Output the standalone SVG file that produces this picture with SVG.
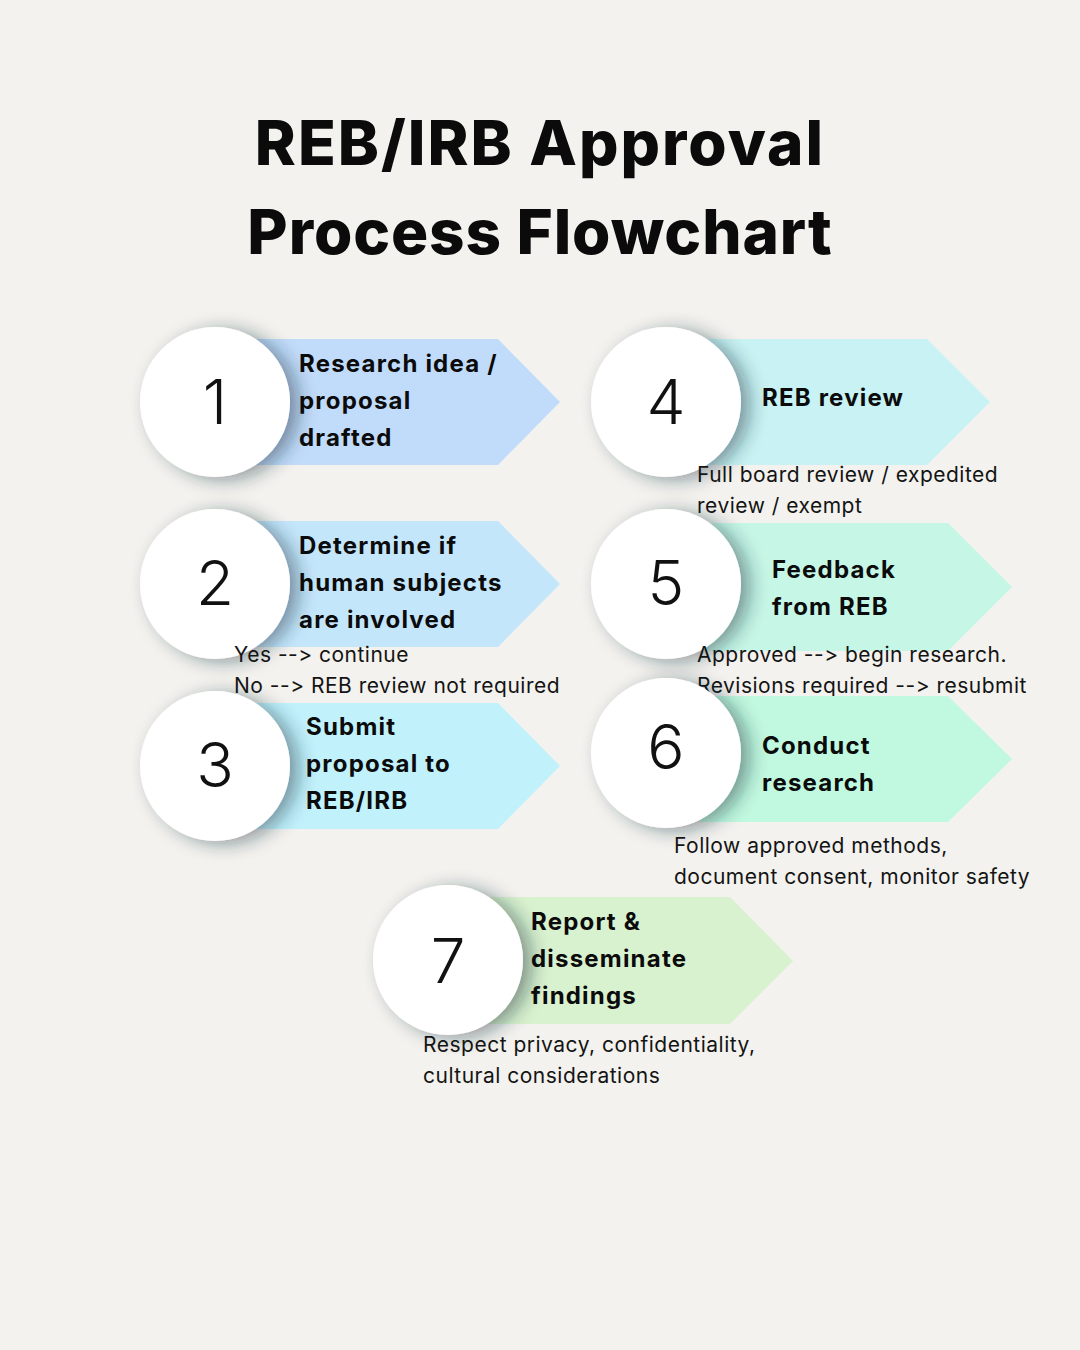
<svg xmlns="http://www.w3.org/2000/svg" width="1080" height="1350" viewBox="0 0 1080 1350">
<defs>
<filter id="sh" x="-30%" y="-30%" width="160%" height="160%">
<feDropShadow dx="9" dy="3" stdDeviation="9" flood-color="#1d2b3a" flood-opacity="0.45"/>
</filter>
<style>
text{font-variant-ligatures:none;font-feature-settings:"calt" 0,"liga" 0}
.title{font-family:Inter,"Liberation Sans",sans-serif;font-weight:800;font-size:62px;fill:#0b0b0b;text-anchor:middle;letter-spacing:2px}
.num{font-family:Inter,"Liberation Sans",sans-serif;font-weight:300;font-size:62px;fill:#111;text-anchor:middle}
.lbl{font-family:Inter,"Liberation Sans",sans-serif;font-weight:700;font-size:24px;fill:#0b0b0b;letter-spacing:1.2px}
.sub{font-family:Inter,"Liberation Sans",sans-serif;font-weight:400;font-size:21px;fill:#141414;letter-spacing:0.5px}
.circ{fill:#ffffff;filter:url(#sh)}
</style>
</defs>
<rect width="1080" height="1350" fill="#f3f2ee"/>
<text class="title" x="540" y="165">REB/IRB Approval</text>
<text class="title" x="540" y="254" style="letter-spacing:0.9px">Process Flowchart</text>
<g id="connectors"/>
<g id="node1">
<polygon points="250,339 498,339 560,402 498,465 250,465" fill="#c1dbfa"/>
<circle class="circ" cx="215" cy="402" r="75"/>
<text class="num" x="215" y="424">1</text>
<text class="lbl" x="299" y="372">Research idea /</text>
<text class="lbl" x="299" y="409">proposal</text>
<text class="lbl" x="299" y="446">drafted</text>
</g>
<g id="node2">
<polygon points="250,521 498,521 560,584 498,647 250,647" fill="#c4e6fb"/>
<circle class="circ" cx="215" cy="584" r="75"/>
<text class="num" x="215" y="605">2</text>
<text class="lbl" x="299" y="554">Determine if</text>
<text class="lbl" x="299" y="591">human subjects</text>
<text class="lbl" x="299" y="628">are involved</text>
<text class="sub" x="234" y="662">Yes --&gt; continue</text>
<text class="sub" x="234" y="693">No --&gt; REB review not required</text>
</g>
<g id="node3">
<polygon points="250,703 498,703 560,766 498,829 250,829" fill="#c1f1fb"/>
<circle class="circ" cx="215" cy="766" r="75"/>
<text class="num" x="215" y="787">3</text>
<text class="lbl" x="306" y="735">Submit</text>
<text class="lbl" x="306" y="772">proposal to</text>
<text class="lbl" x="306" y="809">REB/IRB</text>
</g>
<g id="node4">
<polygon points="700,339 927,339 990,402 927,465 700,465" fill="#c8f2f3"/>
<circle class="circ" cx="666" cy="402" r="75"/>
<text class="num" x="666" y="424">4</text>
<text class="lbl" x="762" y="406">REB review</text>
<text class="sub" x="697" y="482">Full board review / expedited</text>
<text class="sub" x="697" y="513">review / exempt</text>
</g>
<g id="node5">
<polygon points="700,523 948,523 1012,587 948,651 700,651" fill="#c5f6e6"/>
<circle class="circ" cx="666" cy="584" r="75"/>
<text class="num" x="666" y="605">5</text>
<text class="lbl" x="772" y="578">Feedback</text>
<text class="lbl" x="772" y="615">from REB</text>
<text class="sub" x="697" y="662">Approved --&gt; begin research.</text>
<text class="sub" x="697" y="693">Revisions required --&gt; resubmit</text>
</g>
<g id="node6">
<polygon points="700,696 948,696 1012,759 948,822 700,822" fill="#c0f9df"/>
<circle class="circ" cx="666" cy="753" r="75"/>
<text class="num" x="666" y="769">6</text>
<text class="lbl" x="762" y="754">Conduct</text>
<text class="lbl" x="762" y="791">research</text>
<text class="sub" x="674" y="853">Follow approved methods,</text>
<text class="sub" x="674" y="884">document consent, monitor safety</text>
</g>
<g id="node7">
<polygon points="480,897 730,897 793,961 730,1024 480,1024" fill="#d8f1ce"/>
<circle class="circ" cx="448" cy="960" r="75"/>
<text class="num" x="448" y="983">7</text>
<text class="lbl" x="531" y="930">Report &amp;</text>
<text class="lbl" x="531" y="967">disseminate</text>
<text class="lbl" x="531" y="1004">findings</text>
<text class="sub" x="423" y="1052">Respect privacy, confidentiality,</text>
<text class="sub" x="423" y="1083">cultural considerations</text>
</g>
</svg>
